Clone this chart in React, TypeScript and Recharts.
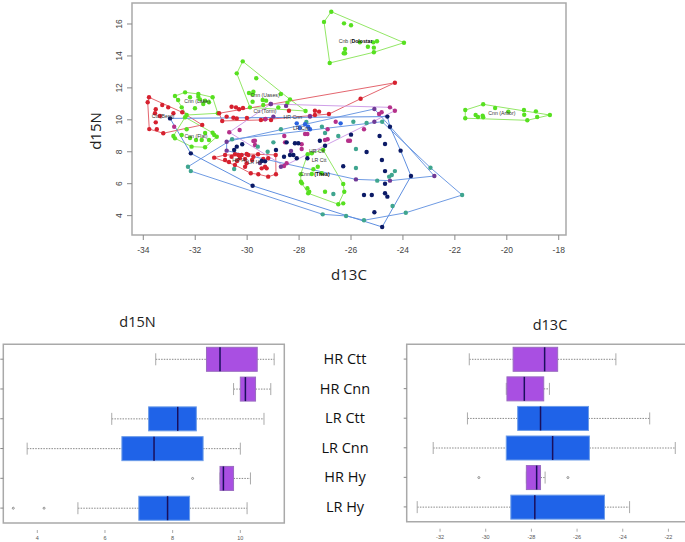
import { Bar, BarChart, ReferenceArea, Scatter, ScatterChart, XAxis, YAxis } from "recharts";

type Pt = [number, number];

// isotope biplot: each group has its hull ring and its other points
const cnbHull: Pt[] = [[-26.76, 16.77], [-23.96, 14.83], [-25.12, 14.23], [-26.82, 13.56], [-27.04, 16.13]];
const cnbPts: Pt[] = [[-26.27, 16.04], [-26.0, 15.92], [-25.66, 14.85], [-25.14, 14.85], [-25.0, 14.92], [-25.35, 14.58], [-25.12, 14.52], [-26.23, 14.43], [-26.23, 14.17], [-26.28, 14.17]];
const upperHull: Pt[] = [[-30.17, 13.66], [-28.35, 11.28], [-27.75, 10.55], [-29.89, 10.78], [-30.4, 12.91]];
const upperPts: Pt[] = [[-29.65, 12.6], [-29.93, 11.68], [-29.76, 11.76], [-29.79, 11.6], [-28.7, 11.62], [-29.4, 11.24], [-29.27, 11.2], [-29.79, 11.13], [-29.38, 10.93], [-28.8, 10.78], [-28.45, 11.07]];
const lakeHull: Pt[] = [[-32.78, 11.49], [-32.39, 11.72], [-31.88, 11.62], [-31.33, 11.41], [-31.13, 10.41], [-32.33, 10.3]];
const lakePts: Pt[] = [[-32.2, 11.41], [-31.88, 11.45], [-31.82, 11.28], [-31.62, 11.2], [-31.69, 10.99], [-31.47, 11.1], [-32.01, 10.72], [-32.52, 10.78], [-32.66, 11.24]];
const flatHull: Pt[] = [[-32.39, 10.16], [-31.33, 9.19], [-31.17, 8.94], [-31.62, 8.28], [-32.14, 8.32], [-32.78, 8.84], [-32.84, 8.99]];
const flatPts: Pt[] = [[-31.27, 9.05], [-31.75, 8.74], [-31.97, 8.74], [-32.52, 9.05], [-32.33, 9.41], [-31.62, 9.17], [-31.47, 8.74], [-32.2, 8.86]];
const theaHull: Pt[] = [[-27.07, 8.11], [-26.3, 5.98], [-26.26, 5.5], [-26.49, 4.71], [-27.65, 5.4], [-27.93, 6.12], [-27.94, 6.59], [-27.67, 7.84]];
const theaPts: Pt[] = [[-27.51, 7.9], [-27.28, 7.06], [-27.45, 6.9], [-27.51, 6.61], [-27.13, 6.65], [-27.0, 5.5], [-27.68, 5.71], [-27.61, 5.5], [-27.89, 6.02], [-26.3, 4.77]];
const arborHull: Pt[] = [[-21.6, 10.61], [-20.91, 10.97], [-18.34, 10.3], [-19.21, 9.97], [-21.6, 10.1]];
const arborPts: Pt[] = [[-20.45, 10.74], [-19.94, 10.51], [-19.34, 10.61], [-18.88, 10.53], [-18.83, 10.18], [-19.33, 10.32], [-21.2, 10.3], [-21.11, 10.18], [-20.93, 10.26], [-20.91, 10.16]];
const bergHull: Pt[] = [[-33.78, 11.41], [-33.83, 11.1], [-33.77, 9.42], [-33.23, 9.16], [-31.73, 9.68], [-32.5, 10.47]];
const bergPts: Pt[] = [[-33.27, 10.93], [-33.52, 10.66], [-33.04, 10.78], [-33.55, 10.41], [-33.36, 10.24], [-33.52, 9.84], [-33.48, 9.41], [-32.84, 10.41]];
const tormHull: Pt[] = [[-31.08, 10.41], [-24.31, 12.32], [-25.63, 11.32], [-26.85, 10.36], [-29.47, 9.99], [-30.96, 9.93]];
const tormPts: Pt[] = [[-30.6, 10.82], [-30.43, 10.78], [-30.31, 10.66], [-30.79, 10.2], [-30.53, 10.13], [-30.4, 10.09], [-27.39, 10.57], [-27.39, 10.3], [-27.23, 10.51], [-28.39, 10.57], [-29.31, 10.03], [-29.08, 9.99], [-30.01, 10.11], [-30.16, 10.74]];
const lowerHull: Pt[] = [[-31.27, 7.63], [-30.85, 7.8], [-30.34, 7.8], [-30.02, 7.86], [-29.58, 7.84], [-28.9, 7.8], [-28.89, 6.59], [-29.19, 6.44], [-29.57, 6.59], [-29.86, 6.65], [-30.47, 7.17]];
const lowerPts: Pt[] = [[-30.85, 7.48], [-30.6, 7.69], [-30.47, 7.84], [-30.28, 7.59], [-30.08, 7.55], [-30.08, 7.06], [-30.02, 7.28], [-29.38, 7.55], [-29.31, 7.06], [-29.25, 6.96], [-29.44, 6.96], [-30.21, 7.8], [-29.96, 7.8], [-29.76, 7.69], [-29.19, 7.59], [-30.7, 7.36], [-29.81, 7.48], [-30.39, 7.42]];
const tealHull: Pt[] = [[-30.58, 8.78], [-24.8, 9.88], [-22.94, 7.0], [-21.72, 5.29], [-23.89, 4.18], [-25.5, 3.71], [-26.19, 3.98], [-27.09, 4.08], [-32.17, 6.79], [-32.28, 7.06]];
const tealPts: Pt[] = [[-25.81, 8.17], [-25.81, 6.98], [-24.99, 6.19], [-24.31, 6.79], [-24.43, 6.54], [-24.53, 6.44], [-24.4, 4.6], [-26.68, 5.35], [-26.49, 8.99], [-25.91, 9.88], [-25.4, 9.8], [-28.7, 9.41], [-27.12, 9.57], [-28.99, 8.59], [-29.59, 8.32], [-29.21, 8.0], [-30.5, 6.92], [-27.72, 9.86], [-27.0, 9.17]];
const navyHull: Pt[] = [[-32.97, 10.09], [-24.6, 10.2], [-24.5, 9.57], [-24.09, 8.07], [-23.69, 6.48], [-24.8, 3.29], [-29.79, 5.87], [-32.17, 7.9]];
const navyPts: Pt[] = [[-26.0, 9.07], [-24.9, 8.99], [-24.69, 8.49], [-25.4, 7.98], [-24.81, 7.48], [-26.3, 7.09], [-24.69, 6.79], [-24.69, 6.0], [-25.5, 5.29], [-25.2, 5.29], [-24.69, 5.4], [-24.6, 5.19], [-25.1, 4.21], [-27.0, 8.38], [-27.2, 8.69], [-27.68, 7.59], [-30.4, 8.32], [-30.5, 8.11], [-30.19, 8.47], [-28.89, 8.11], [-28.58, 7.69], [-28.09, 7.59], [-28.22, 7.8], [-28.35, 7.8], [-28.16, 8.53], [-28.03, 8.53], [-28.48, 8.59], [-29.44, 7.42], [-29.31, 7.4]];
const magentaHull: Pt[] = [[-30.69, 9.22], [-29.09, 10.99], [-24.5, 10.78], [-24.31, 10.57], [-28.58, 7.11]];
const magentaPts: Pt[] = [[-24.82, 10.47], [-24.92, 10.36], [-25.5, 9.41], [-26.11, 8.69], [-26.59, 9.88], [-26.9, 9.41], [-27.0, 8.74], [-27.58, 10.24], [-27.77, 9.11], [-27.68, 9.11], [-28.57, 8.99], [-29.29, 10.05], [-29.7, 8.69], [-28.54, 8.59], [-27.9, 8.47], [-27.9, 8.17], [-26.9, 8.78], [-26.04, 8.69], [-29.7, 8.42], [-28.48, 7.28], [-30.29, 9.36], [-32.81, 9.57], [-29.76, 8.67]];
const plumHull: Pt[] = [[-30.79, 8.63], [-25.1, 10.68], [-22.79, 6.48], [-24.5, 6.19], [-25.81, 6.27], [-30.79, 8.07]];
const plumPts: Pt[] = [[-25.1, 9.88], [-29.09, 10.99], [-28.99, 10.2], [-28.5, 10.87], [-27.58, 10.2], [-28.31, 8.05], [-28.7, 7.06], [-29.51, 7.3]];
const bluePts: Pt[] = [[-28.09, 9.78], [-27.77, 9.72], [-27.65, 9.57], [-27.58, 9.41], [-26.4, 9.78], [-27.97, 9.49]];

const labelTexts = ["Cnb (", "Dolostar", "Cnn (Uases)", "Cnn (Lake)", "Cnn (Flat)", "Ctt (Berg)", "Ctt (Torm)", "HR Cnn", "LR Cnn", "HR Ctt", "LR Ctt", "HR Hy", "LR Hy", "Cnn", "(Thea)", "Cnn (Arbor)"];
const labelXs = [-26.23, -25.58, -29.31, -31.93, -31.97, -33.24, -29.31, -28.24, -27.9, -27.32, -27.23, -30.28, -29.7, -27.77, -27.12, -20.19];
const labelYs = [14.94, 14.94, 11.55, 11.18, 8.99, 10.24, 10.57, 10.2, 9.49, 8.05, 7.48, 7.48, 7.36, 6.61, 6.61, 10.43];
const boldLabels = ["Dolostar", "(Thea)"];

const xTicks = [-34, -32, -30, -28, -26, -24, -22, -20, -18];
const yTicks = [4, 6, 8, 10, 12, 14, 16];

// box plots, top row first
const boxNames = ["HR Ctt", "HR Cnn", "LR Ctt", "LR Cnn", "HR Hy", "LR Hy"];
const boxColors = ["#a94fe2", "#a94fe2", "#1f63e8", "#1f63e8", "#a94fe2", "#1f63e8"];

const n15Low = [7.5, 9.8, 6.2, 3.7, 9.4, 5.2];
const n15Q1 = [9.0, 10.0, 7.29, 6.5, 9.4, 7.0];
const n15Med = [9.4, 10.15, 8.15, 7.45, 9.5, 7.85];
const n15Q3 = [10.5, 10.45, 8.7, 8.9, 9.8, 8.5];
const n15High = [11.0, 10.9, 10.7, 10.0, 10.3, 10.2];
const n15Out = [[], [], [], [], [8.59], [3.29, 4.2]];
const n15Ticks = [4, 6, 8, 10];

const c13Low = [-30.72, -29.1, -30.8, -32.3, -28.22, -33.0];
const c13Q1 = [-28.8, -29.07, -28.6, -29.1, -28.22, -28.9];
const c13Med = [-27.42, -28.31, -27.6, -27.07, -27.77, -27.85];
const c13Q3 = [-26.85, -27.46, -25.5, -25.46, -27.6, -24.8];
const c13High = [-24.3, -27.21, -22.82, -21.7, -27.4, -23.7];
const c13Out = [[], [], [], [], [-30.3, -26.4], []];
const c13Ticks = [-32, -30, -28, -26, -24, -22];

const rows = (pts: Pt[]) => pts.map(([x, y]) => ({ x, y }));
const FRAME = "#a9a9a9";
const SANS = "'Liberation Sans', Arial, sans-serif";
const TITLE = "'Open Sans', sans-serif";

const groups = [
  { hull: cnbHull, pts: cnbPts, line: "#93e766", dot: "#57e020" },
  { hull: upperHull, pts: upperPts, line: "#93e766", dot: "#57e020" },
  { hull: lakeHull, pts: lakePts, line: "#93e766", dot: "#57e020" },
  { hull: flatHull, pts: flatPts, line: "#93e766", dot: "#57e020" },
  { hull: theaHull, pts: theaPts, line: "#93e766", dot: "#57e020" },
  { hull: arborHull, pts: arborPts, line: "#93e766", dot: "#57e020" },
  { hull: bergHull, pts: bergPts, line: "#e4666f", dot: "#d6212f" },
  { hull: tormHull, pts: tormPts, line: "#e4666f", dot: "#d6212f" },
  { hull: lowerHull, pts: lowerPts, line: "#e4666f", dot: "#d6212f" },
  { hull: magentaHull, pts: magentaPts, line: "#cf9fe8", dot: "#b5308a" },
  { hull: plumHull, pts: plumPts, line: "#6f9be3", dot: "#6f3a96" },
  { hull: tealHull, pts: tealPts, line: "#6f9be3", dot: "#3fa58f" },
  { hull: navyHull, pts: navyPts, line: "#5f8fe0", dot: "#0b1a66" },
];

const Dot = (fill: string) => (p: any) => <circle cx={p.cx} cy={p.cy} r={2.2} fill={fill} />;

function XTick({ x, y, payload }: any) {
  return (
    <text x={x} y={y + 11} textAnchor="middle" fontSize={8.5} fontFamily={SANS} fill="#444">
      {payload.value}
    </text>
  );
}

function YTick({ x, y, payload }: any) {
  return (
    <text x={x - 3} y={y} transform={`rotate(-90 ${x - 3} ${y})`} textAnchor="middle" fontSize={8.5} fontFamily={SANS} fill="#444">
      {payload.value}
    </text>
  );
}

// axis title of the biplot, rotated and centred on the reference's position
const N15Title = () => (
  <text x={97} y={131} transform="rotate(-90 97 131)" textAnchor="middle" dominantBaseline="middle" fontSize={15} fontFamily={TITLE} fill="#222">
    d15N
  </text>
);

function Biplot() {
  const labels = labelTexts.map((text, i) => ({ text, x: labelXs[i], y: labelYs[i] }));
  return (
    <ScatterChart width={685} height={290} margin={{ top: 3, right: 119, bottom: 0, left: 0 }}>
      <XAxis
        type="number"
        dataKey="x"
        domain={[-34.435, -17.72]}
        ticks={xTicks}
        height={55}
        axisLine={false}
        tickSize={5}
        stroke="#888"
        tick={<XTick />}
        label={{ value: "d13C", position: "insideBottom", offset: 10, fontSize: 15, fontFamily: TITLE, fill: "#222" }}
      />
      <YAxis
        type="number"
        dataKey="y"
        domain={[2.787, 17.315]}
        ticks={yTicks}
        width={132}
        axisLine={false}
        tickSize={5}
        stroke="#888"
        tick={<YTick />}
        label={N15Title}
      />
      <ReferenceArea x1={-34.435} x2={-17.72} y1={2.787} y2={17.315} fill="none" stroke={FRAME} strokeWidth={1.5} fillOpacity={0} />
      {groups.map((g, i) => (
        <Scatter
          key={`hull${i}`}
          data={rows([...g.hull, g.hull[0]])}
          line={{ stroke: g.line, strokeWidth: 1 }}
          lineType="joint"
          shape={() => <g />}
          isAnimationActive={false}
        />
      ))}
      {groups.map((g, i) => (
        <Scatter key={`dots${i}`} data={rows([...g.hull, ...g.pts])} shape={Dot(g.dot)} isAnimationActive={false} />
      ))}
      <Scatter data={rows(bluePts)} shape={Dot("#2a63e0")} isAnimationActive={false} />
      <Scatter
        data={labels}
        isAnimationActive={false}
        shape={(p: any) => (
          <text
            x={p.cx}
            y={p.cy + 2}
            textAnchor="middle"
            fontSize={5.2}
            fontFamily={SANS}
            fontWeight={boldLabels.includes(p.payload.text) ? 700 : 400}
            fill={boldLabels.includes(p.payload.text) ? "#000" : "#333"}
          >
            {p.payload.text}
          </text>
        )}
      />
    </ScatterChart>
  );
}

// box, whiskers, median and outliers placed from the bar's own q1..q3 pixel span
function BoxShape({ x, y, width, height, payload, index }: any) {
  const px = (v: number) => x + ((v - payload.q1) / (payload.q3 - payload.q1)) * width;
  const mid = y + height / 2;
  const capH = 6;
  return (
    <g>
      <line x1={px(payload.low)} x2={x} y1={mid} y2={mid} stroke="#888" strokeDasharray="1.5 1.2" />
      <line x1={x + width} x2={px(payload.high)} y1={mid} y2={mid} stroke="#888" strokeDasharray="1.5 1.2" />
      <line x1={px(payload.low)} x2={px(payload.low)} y1={mid - capH} y2={mid + capH} stroke="#aaa" />
      <line x1={px(payload.high)} x2={px(payload.high)} y1={mid - capH} y2={mid + capH} stroke="#aaa" />
      <rect x={x} y={y} width={width} height={height} fill={boxColors[index]} stroke={boxColors[index] === "#1f63e8" ? "#6c9ce8" : "#9a6cc0"} />
      <line x1={px(payload.med)} x2={px(payload.med)} y1={y} y2={y + height} stroke="#1a0f5c" strokeWidth={1.5} />
      {payload.out.map((v: number) => (
        <circle key={v} cx={px(v)} cy={mid} r={1} fill="none" stroke="#777" strokeWidth={0.8} />
      ))}
    </g>
  );
}

function BoxTick({ y, payload, labelX }: any) {
  if (labelX === undefined) return <g />;
  return (
    <text x={labelX} y={y + 5} textAnchor="middle" fontSize={14.5} fontFamily={TITLE} fill="#111">
      {payload.value}
    </text>
  );
}

function SmallTick({ x, y, payload }: any) {
  return (
    <text x={x} y={y + 5} textAnchor="middle" fontSize={5.5} fontFamily={SANS} fill="#555">
      {payload.value}
    </text>
  );
}

function BoxChart({ data, domain, ticks, width, left, bottom, right, labelX, tickSize }: any) {
  return (
    <BarChart width={width} height={242} layout="vertical" data={data} barSize={24} margin={{ top: 37.3, right, bottom: 0, left: 0 }}>
      <XAxis
        type="number"
        domain={domain}
        ticks={ticks}
        height={bottom}
        axisLine={false}
        tickSize={3}
        stroke="#aaa"
        tick={<SmallTick />}
      />
      <YAxis
        type="category"
        dataKey="name"
        width={left}
        axisLine={false}
        tickSize={tickSize}
        stroke="#888"
        padding={{ top: 7, bottom: 7 }}
        interval={0}
        tick={<BoxTick labelX={labelX} />}
      />
      <ReferenceArea x1={domain[0]} x2={domain[1]} fill="none" stroke={FRAME} strokeWidth={1.5} fillOpacity={0} />
      <Bar dataKey={(d: any) => [d.q1, d.q3]} shape={<BoxShape />} isAnimationActive={false} />
    </BarChart>
  );
}

const boxRows = (low: number[], q1: number[], med: number[], q3: number[], high: number[], out: number[][]) =>
  boxNames.map((name, i) => ({ name, low: low[i], q1: q1[i], med: med[i], q3: q3[i], high: high[i], out: out[i] }));

export default function App() {
  return (
    <div style={{ position: "absolute", left: 0, top: 0, width: 685, height: 542, overflow: "hidden", background: "#fff" }}>
      <div style={{ position: "absolute", left: 0, top: 0 }}>
        <Biplot />
      </div>
      <div style={{ position: "absolute", left: 0, top: 300 }}>
        <BoxChart
          data={boxRows(n15Low, n15Q1, n15Med, n15Q3, n15High, n15Out)}
          domain={[2.995, 11.3]}
          ticks={n15Ticks}
          width={290}
          left={3.3}
          right={5.7}
          bottom={12}
          tickSize={3}
        />
      </div>
      <div style={{ position: "absolute", left: 290, top: 300 }}>
        <BoxChart
          data={boxRows(c13Low, c13Q1, c13Med, c13Q3, c13High, c13Out)}
          domain={[-33.46, -21.23]}
          ticks={c13Ticks}
          width={396}
          left={116.7}
          right={0}
          bottom={13.3}
          labelX={55}
          tickSize={3}
        />
      </div>
      <div style={{ position: "absolute", left: 0, top: 312, width: 275, textAlign: "center", fontFamily: TITLE, fontSize: 14.5, color: "#222" }}>d15N</div>
      <div style={{ position: "absolute", left: 412, top: 315, width: 276, textAlign: "center", fontFamily: TITLE, fontSize: 14.5, color: "#222" }}>d13C</div>
    </div>
  );
}
